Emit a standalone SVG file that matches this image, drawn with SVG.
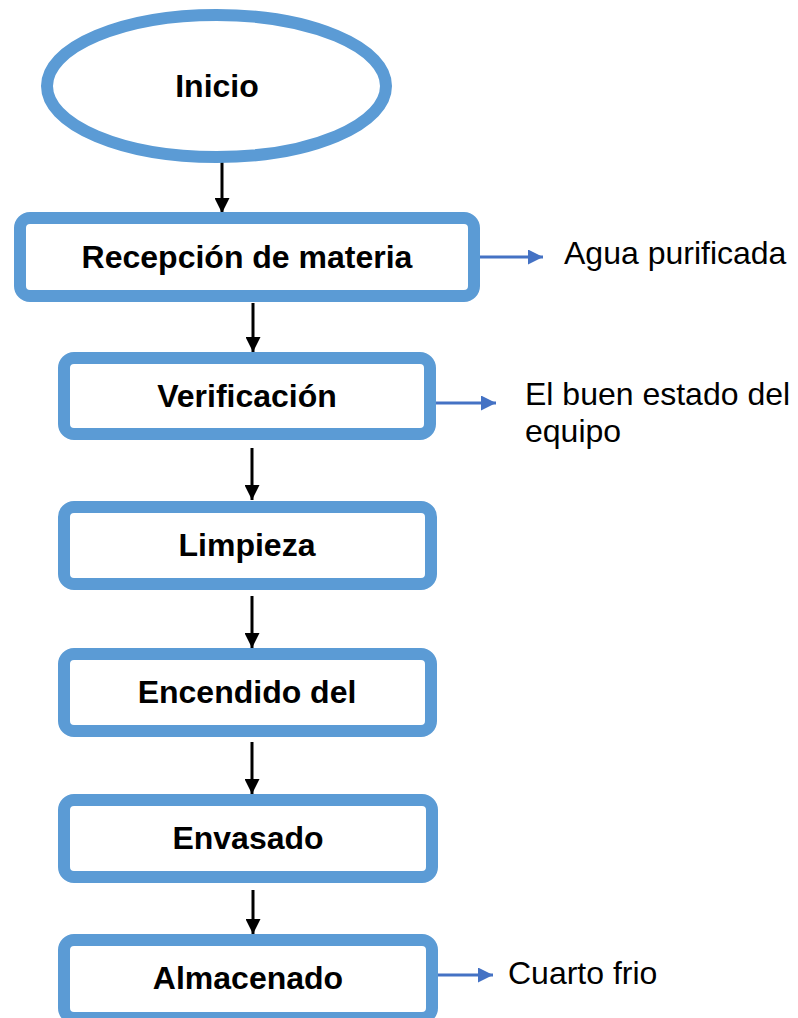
<svg xmlns="http://www.w3.org/2000/svg" width="798" height="1018" viewBox="0 0 798 1018">
<defs>
<style>
.node{fill:#fff;stroke:#5B9BD5;stroke-width:12}
.lbl{font-family:"Liberation Sans",Arial,sans-serif;font-size:32px;font-weight:bold;fill:#000;text-anchor:middle}
.note{font-family:"Liberation Sans",Arial,sans-serif;font-size:32px;fill:#000}
.flow{stroke:#000;stroke-width:3;fill:none;marker-end:url(#ah)}
.side{stroke:#4472C4;stroke-width:3;fill:none;marker-end:url(#bh)}
</style>
<marker id="ah" viewBox="0 0 10 10" refX="10" refY="5" markerWidth="5" markerHeight="5" markerUnits="strokeWidth" orient="auto"><path d="M0,0 L10,5 L0,10 z" fill="#000"/></marker>
<marker id="bh" viewBox="0 0 10 10" refX="10" refY="5" markerWidth="5" markerHeight="5" markerUnits="strokeWidth" orient="auto"><path d="M0,0 L10,5 L0,10 z" fill="#4472C4"/></marker>
</defs>
<rect width="798" height="1018" fill="#fff"/>
<g id="connectors">
<line class="flow" x1="222" y1="162" x2="222" y2="213"/>
<line class="flow" x1="253" y1="303" x2="253" y2="352"/>
<line class="flow" x1="252" y1="448" x2="252" y2="500"/>
<line class="flow" x1="252" y1="596" x2="252" y2="648"/>
<line class="flow" x1="252" y1="742" x2="252" y2="794"/>
<line class="flow" x1="253" y1="890" x2="253" y2="934"/>
<line class="side" x1="479" y1="257" x2="543" y2="257"/>
<line class="side" x1="430" y1="403" x2="496" y2="403"/>
<line class="side" x1="426" y1="975" x2="493" y2="975"/>
</g>
<g id="inicio">
<ellipse class="node" cx="216.5" cy="86" rx="169.5" ry="71"/>
<text class="lbl" x="217" y="97">Inicio</text>
</g>
<g id="recepcion">
<rect class="node" x="20" y="218" width="454" height="78" rx="10"/>
<text class="lbl" x="247" y="268">Recepción de materia</text>
</g>
<g id="verificacion">
<rect class="node" x="64" y="358" width="366" height="76" rx="10"/>
<text class="lbl" x="247" y="407">Verificación</text>
</g>
<g id="limpieza">
<rect class="node" x="64" y="507" width="367" height="77" rx="10"/>
<text class="lbl" x="247" y="556">Limpieza</text>
</g>
<g id="encendido">
<rect class="node" x="64" y="654" width="367" height="77" rx="10"/>
<text class="lbl" x="247" y="703">Encendido del</text>
</g>
<g id="envasado">
<rect class="node" x="64" y="800" width="368" height="77" rx="10"/>
<text class="lbl" x="248" y="849">Envasado</text>
</g>
<g id="almacenado">
<rect class="node" x="64" y="940" width="368" height="78" rx="10"/>
<text class="lbl" x="248" y="989">Almacenado</text>
</g>
<g id="notes">
<text class="note" x="564" y="264">Agua purificada</text>
<text class="note" x="525" y="405">El buen estado del</text>
<text class="note" x="525" y="442">equipo</text>
<text class="note" x="508" y="984">Cuarto frio</text>
</g>
</svg>
